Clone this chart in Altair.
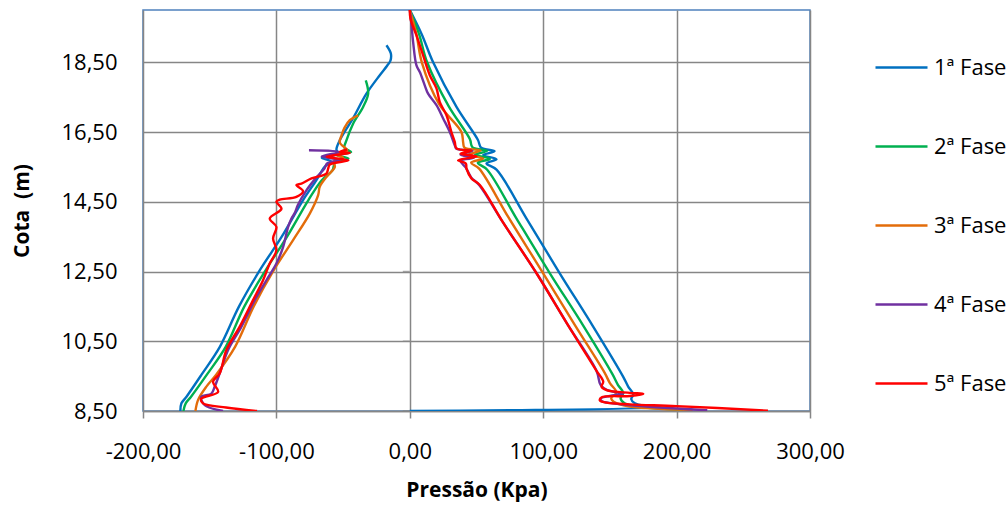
import altair as alt
import pandas as pd

fases = ["1ª Fase", "2ª Fase", "3ª Fase", "4ª Fase", "5ª Fase"]
cores = ["#0070C0", "#00B050", "#E36C0A", "#7030A0", "#FF0000"]

x_ticks = [-200, -100, 0, 100, 200, 300]
y_ticks = [8.5, 10.5, 12.5, 14.5, 16.5, 18.5]

# --- lado esquerdo (pressões negativas), de cima para baixo ---
f1_esq_p = [-17.5, -14.2, -14.5, -17, -22.5, -32.5, -42.5, -52, -55, -54, -66, -59, -64, -70, -80, -96, -112.4, -128, -142.4, -156, -167.4, -171.2, -172]
f1_esq_z = [18.99, 18.75, 18.55, 18.4, 18.13, 17.6, 16.9, 16.3, 16.0, 15.88, 15.76, 15.66, 15.5, 15.12, 14.55, 13.5, 12.54, 11.5, 10.34, 9.55, 8.91, 8.72, 8.5]

f2_esq_p = [-33, -31.2, -35, -42.5, -47.5, -49, -44, -55, -46, -56, -58, -66, -76, -92, -108, -124, -138, -152, -164, -168, -169.7]
f2_esq_z = [17.98, 17.6, 17.22, 16.74, 16.26, 16.05, 15.93, 15.84, 15.74, 15.62, 15.4, 15.12, 14.55, 13.5, 12.54, 11.5, 10.34, 9.55, 8.91, 8.72, 8.5]

f3_esq_p = [-38.7, -45, -49, -51.2, -52.5, -47, -56, -50, -57, -56.2, -62.5, -67.5, -68.7, -75, -87.5, -102, -117, -131, -145, -152.5, -158.7, -160.7]
f3_esq_z = [16.98, 16.84, 16.62, 16.4, 16.2, 15.97, 15.87, 15.76, 15.65, 15.5, 15.21, 14.93, 14.69, 14.16, 13.4, 12.54, 11.5, 10.34, 9.55, 9.2, 8.82, 8.5]

f4_esq_p = [-75.6, -52.5, -66, -52.5, -62, -64, -70, -78, -84, -86, -88.7, -91.2, -95, -100, -107.5, -116.2, -126.2, -136.2, -142.5, -146.2, -148.7, -156.4, -153.7, -140]
f4_esq_z = [15.98, 15.93, 15.8, 15.7, 15.6, 15.45, 15.2, 14.8, 14.4, 14.2, 14.02, 13.78, 13.2, 12.73, 12.25, 11.68, 10.92, 10.25, 9.58, 9.2, 9.0, 8.9, 8.67, 8.5]

f5_esq_p = [-47, -52.5, -45, -62.4, -46, -60, -61.2, -62.5, -73.7, -81.2, -85, -80, -85, -97.5, -100, -96.2, -105, -100, -102.5, -100, -105, -110, -117.5, -127.5, -137.5, -142.5, -147.5, -143.7, -156.4, -155, -137.7, -114.5]
f5_esq_z = [16.0, 15.93, 15.9, 15.79, 15.69, 15.57, 15.45, 15.31, 15.17, 15.02, 14.98, 14.8, 14.64, 14.56, 14.5, 14.3, 14.02, 13.78, 13.45, 13.11, 12.73, 12.25, 11.68, 10.92, 10.25, 9.58, 9.34, 9.05, 8.85, 8.72, 8.6, 8.5]

# --- lado direito (pressões positivas), de cima para baixo ---
f1_dir_p = [0, 9, 17.5, 35, 51, 53.5, 63.5, 55, 65, 57.5, 65, 87.5, 112.4, 137, 160, 163.7, 167.5, 166, 168.7, 178, 188, 0]
f1_dir_z = [20, 19.3, 18.5, 17.22, 16.28, 16.05, 15.95, 15.84, 15.72, 15.6, 15.42, 14.02, 12.45, 10.95, 9.48, 9.2, 8.98, 8.84, 8.72, 8.64, 8.6, 8.5]

f2_dir_p = [0, 7, 13, 29, 45, 47, 58, 49, 60, 51, 58, 80, 105, 130, 152, 156, 160, 158, 161, 172, 205]
f2_dir_z = [20, 19.3, 18.5, 17.25, 16.3, 16.06, 15.96, 15.85, 15.73, 15.62, 15.42, 14.02, 12.45, 10.95, 9.55, 9.25, 9.02, 8.86, 8.72, 8.62, 8.54]

f3_dir_p = [0, 5, 9, 22, 38.7, 40, 41, 53, 44, 55, 46, 52, 74, 100, 124, 146, 150, 155, 151, 154, 165, 212]
f3_dir_z = [20, 19.3, 18.5, 17.3, 16.5, 16.2, 16.05, 15.97, 15.85, 15.74, 15.62, 15.45, 14.05, 12.45, 10.95, 9.6, 9.3, 9.03, 8.87, 8.74, 8.63, 8.53]

f4_dir_p = [0, 1.3, 2.5, 5, 7.5, 11.2, 13.7, 20, 25, 30, 33.7, 35, 47, 38, 48, 38, 42, 46, 52, 70, 95, 118, 140, 143, 148, 160, 148, 143, 144, 152, 170, 223]
f4_dir_z = [20, 19.56, 19.08, 18.41, 18.22, 17.84, 17.6, 17.27, 16.89, 16.5, 16.12, 16.02, 15.96, 15.85, 15.76, 15.68, 15.48, 15.2, 14.98, 13.9, 12.45, 11.0, 9.65, 9.25, 9.1, 9.0, 8.92, 8.86, 8.78, 8.72, 8.65, 8.52]

f5_dir_p = [0, 0.5, 5, 10, 15, 20, 22.5, 27.5, 31.2, 33.7, 35, 46.2, 38, 50, 36.2, 42, 42.5, 46.2, 52.5, 70, 95, 118, 140, 145, 143.7, 147.5, 165, 175, 165, 143.7, 142.5, 147.5, 165, 200, 268.5]
f5_dir_z = [20, 19.75, 19.27, 18.7, 18.13, 17.75, 17.36, 16.98, 16.5, 16.22, 16.03, 15.96, 15.88, 15.8, 15.69, 15.6, 15.45, 15.17, 14.98, 13.9, 12.45, 11.0, 9.65, 9.34, 9.2, 9.1, 9.02, 8.99, 8.93, 8.89, 8.8, 8.74, 8.69, 8.64, 8.51]

series = [
    (fases[0], f1_esq_p, f1_esq_z, f1_dir_p, f1_dir_z),
    (fases[1], f2_esq_p, f2_esq_z, f2_dir_p, f2_dir_z),
    (fases[2], f3_esq_p, f3_esq_z, f3_dir_p, f3_dir_z),
    (fases[3], f4_esq_p, f4_esq_z, f4_dir_p, f4_dir_z),
    (fases[4], f5_esq_p, f5_esq_z, f5_dir_p, f5_dir_z),
]

rows = []
for fase, ep, ez, dp, dz in series:
    for lado, ps, zs in (("esq", ep, ez), ("dir", dp, dz)):
        for i, (p, z) in enumerate(zip(ps, zs)):
            rows.append({"fase": fase, "lado": fase + lado, "ordem": i, "pressao": p, "cota": z})
df = pd.DataFrame(rows)

fmt = "(datum.value < 0 ? '-' : '') + replace(format(abs(datum.value), '.2f'), '.', ',')"
FONT = "Open Sans"

x_enc = alt.X(
    "pressao:Q",
    scale=alt.Scale(domain=[-200, 300], nice=False, zero=False),
    axis=alt.Axis(
        values=x_ticks, labelExpr=fmt, title="Pressão (Kpa)",
        tickSize=7, tickColor="#868686", tickWidth=1.5,
        domainColor="#868686", domainWidth=1.5,
        labelFlush=False, labelPadding=23, titlePadding=17,
    ),
)
y_enc = alt.Y(
    "cota:Q",
    scale=alt.Scale(domain=[8.5, 20], nice=False, zero=False),
    axis=alt.Axis(
        values=y_ticks, labelExpr=fmt, title="Cota\u00a0 (m)",
        ticks=False, domain=False, labelFlush=False,
        labelPadding=26, titlePadding=28,
    ),
)

linhas = alt.Chart(df).mark_line(strokeWidth=2.4, interpolate="catmull-rom", clip=True).encode(
    x=x_enc,
    y=y_enc,
    color=alt.Color(
        "fase:N",
        scale=alt.Scale(domain=fases, range=cores),
        legend=alt.Legend(
            title=None, orient="none", legendX=731, legendY=30,
            symbolType="stroke", symbolSize=2704, symbolStrokeWidth=2.5,
            rowPadding=40, labelOffset=5, padding=0,
            labelFont=FONT, labelFontSize=22, labelColor="#000000",
        ),
    ),
    detail="lado:N",
    order="ordem:Q",
)

# pequenos traços do eixo vertical que cruza em 0
marcas = alt.Chart(pd.DataFrame({"cota": y_ticks, "pressao": [0] * len(y_ticks)})).mark_tick(
    orient="horizontal", size=7, thickness=1.5, color="#868686", xOffset=-3.5
).encode(x="pressao:Q", y="cota:Q")

chart = alt.layer(marcas, linhas).properties(
    width=667, height=401,
    padding={"left": 143, "top": 10, "right": 197, "bottom": 95},
    autosize=alt.AutoSizeParams(type="none"),
).configure_view(
    stroke="#4F81BD", strokeWidth=1.5
).configure_axis(
    grid=True, gridColor="#868686", gridWidth=1.5,
    labelFont=FONT, labelFontSize=22, labelColor="#000000",
    titleFont=FONT, titleFontSize=21, titleFontWeight="bold", titleColor="#000000",
)

chart.save("out.html", embed_options={"renderer": "svg", "actions": False})
